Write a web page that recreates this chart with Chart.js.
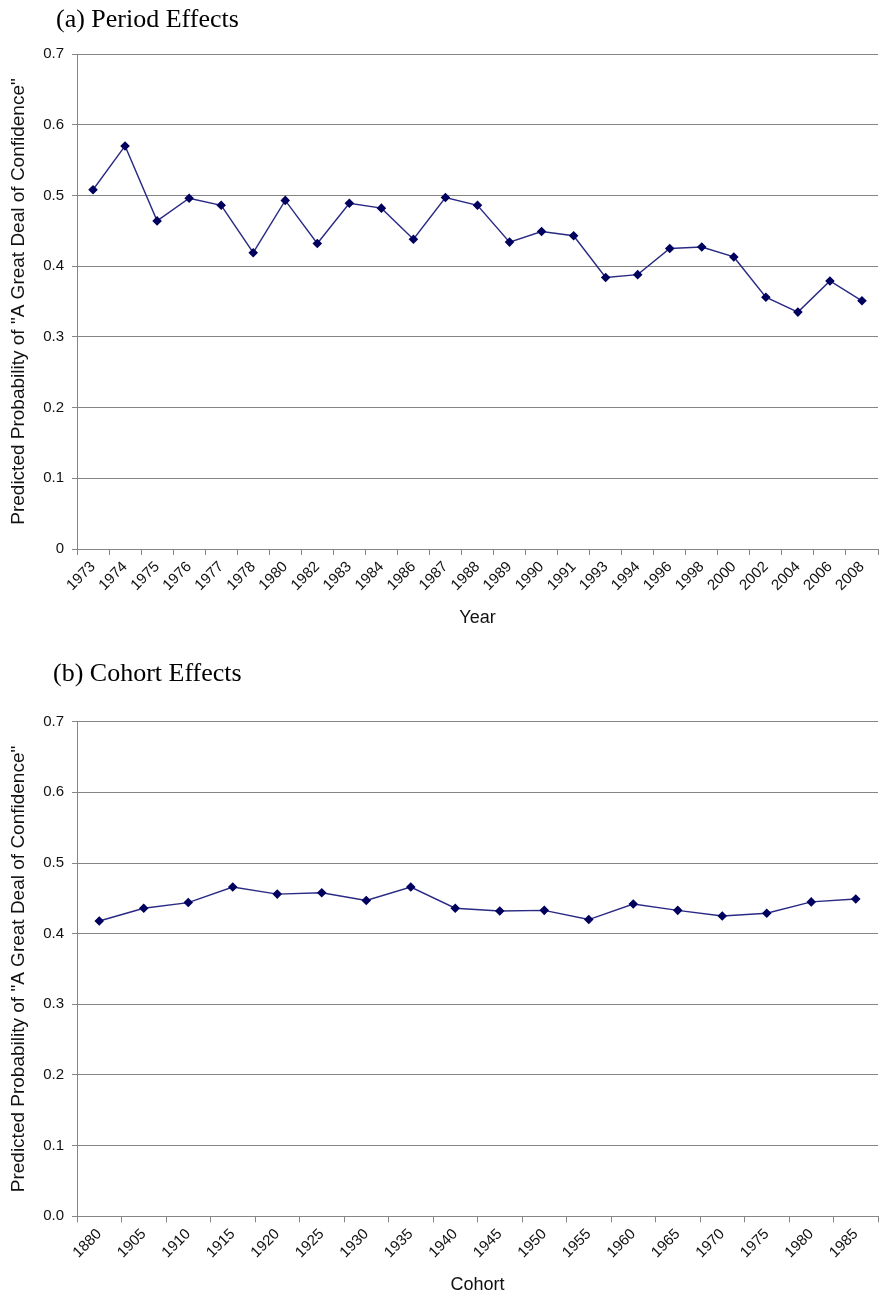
<!DOCTYPE html>
<html>
<head>
<meta charset="utf-8">
<script src="https://cdn.jsdelivr.net/npm/chart.js@4.4.1/dist/chart.umd.min.js"></script>
<style>
  body { margin: 0; background: #fff; }
  .wrap { position: absolute; left: 0; width: 879px; }
  .panel-title { position: absolute; font-family: 'Liberation Serif', serif; font-size: 26px; line-height: 30px; color: #000; white-space: nowrap; }
</style>
</head>
<body>
<div class="wrap" style="top:0;height:630px;">
  <canvas id="periodChart" width="879" height="630"></canvas>
</div>
<div class="panel-title" style="left:56px;top:4px;">(a) Period Effects</div>

<div class="wrap" style="top:640px;height:657px;">
  <canvas id="cohortChart" width="879" height="657"></canvas>
</div>
<div class="panel-title" style="left:53px;top:658px;">(b) Cohort Effects</div>

<script>
const years = ['1973', '1974', '1975', '1976', '1977', '1978', '1980', '1982', '1983', '1984',
  '1986', '1987', '1988', '1989', '1990', '1991', '1993', '1994', '1996', '1998',
  '2000', '2002', '2004', '2006', '2008'];
const periodValues = [0.508, 0.570, 0.464, 0.496, 0.486, 0.419, 0.493, 0.432, 0.489, 0.482,
  0.438, 0.497, 0.486, 0.434, 0.449, 0.443, 0.384, 0.388, 0.425, 0.427,
  0.413, 0.356, 0.335, 0.379, 0.351];

const cohorts = ['1880', '1905', '1910', '1915', '1920', '1925', '1930', '1935', '1940',
  '1945', '1950', '1955', '1960', '1965', '1970', '1975', '1980', '1985'];
const cohortValues = [0.418, 0.436, 0.444, 0.466, 0.456, 0.458, 0.447, 0.466, 0.436,
  0.432, 0.433, 0.420, 0.442, 0.433, 0.425, 0.429, 0.445, 0.449];

const periodYTicks = ['0', '0.1', '0.2', '0.3', '0.4', '0.5', '0.6', '0.7'];
const cohortYTicks = ['0.0', '0.1', '0.2', '0.3', '0.4', '0.5', '0.6', '0.7'];

const yTitle = 'Predicted Probability of "A Great Deal of Confidence"';
const gridGray = '#858585';

function makeChart(id, labels, values, yTickLabels, xTitle, padTop, xHeight) {
  return new Chart(document.getElementById(id), {
    type: 'line',
    data: {
      labels: labels,
      datasets: [{
        data: values,
        borderColor: '#2a2a85',
        borderWidth: 1.4,
        backgroundColor: '#00005e',
        pointBackgroundColor: '#00005e',
        pointBorderColor: '#00005e',
        pointStyle: 'rectRot',
        pointRadius: 3.8,
        tension: 0,
        fill: false
      }]
    },
    options: {
      responsive: false,
      animation: false,
      layout: { autoPadding: false, padding: { top: padTop, right: 1, left: 0, bottom: 0 } },
      plugins: { legend: { display: false }, tooltip: { enabled: false } },
      scales: {
        x: {
          offset: true,
          grid: { display: true, drawOnChartArea: false, drawTicks: true, tickLength: 6, color: gridGray, offset: true },
          border: { display: true, color: gridGray, width: 1 },
          ticks: {
            autoSkip: false, maxRotation: 45, minRotation: 45, padding: 3,
            color: '#111', font: { family: 'Liberation Sans', size: 15 }
          },
          title: {
            display: true, text: xTitle, color: '#111', padding: { top: 0, bottom: 1 },
            font: { family: 'Liberation Sans', size: 18 }
          },
          afterFit: function (scale) {
            scale.height = xHeight;
            scale.paddingLeft = 0;
            scale.paddingRight = 0;
          }
        },
        y: {
          min: 0, max: 0.7,
          grid: { color: gridGray, lineWidth: 1, drawTicks: true, tickLength: 5 },
          border: { display: true, color: gridGray, width: 1 },
          ticks: {
            stepSize: 0.1, padding: 8, color: '#111',
            font: { family: 'Liberation Sans', size: 15 },
            callback: function (v, i) { return yTickLabels[i]; }
          },
          title: {
            display: true, text: yTitle, color: '#111', padding: { top: 7, bottom: 0 },
            font: { family: 'Liberation Sans', size: 19 }
          },
          afterFit: function (scale) { scale.width = 77; }
        }
      }
    }
  });
}

makeChart('periodChart', years, periodValues, periodYTicks, 'Year', 54, 81);
makeChart('cohortChart', cohorts, cohortValues, cohortYTicks, 'Cohort', 81.7, 80.7);
</script>
</body>
</html>
